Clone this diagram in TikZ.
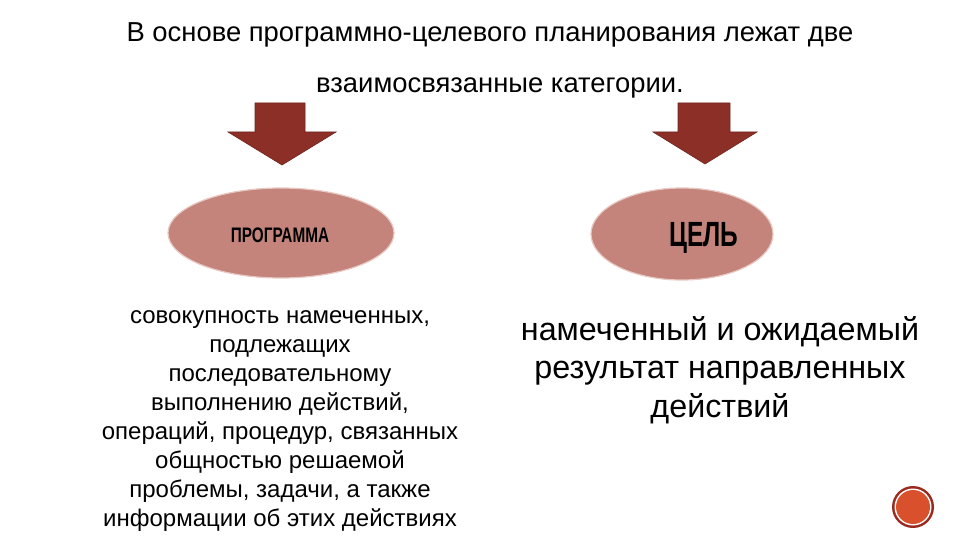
\documentclass[tikz,border=0pt]{standalone}
\usepackage{fontspec}
\setmainfont{Liberation Sans}
\usetikzlibrary{shapes.geometric}
\definecolor{arrowred}{HTML}{8C2F27}
\definecolor{ovalfill}{HTML}{C4847C}
\definecolor{ovalline}{HTML}{E8C8C2}
\definecolor{badge}{HTML}{D9502C}
\definecolor{badgering}{HTML}{9A2A1E}
\tikzset{
  bigarrow/.style={fill=arrowred, draw=arrowred!80!black, line width=0.6pt},
  oval/.style={ellipse, fill=ovalfill, draw=ovalline, line width=1.2pt, inner sep=0pt},
  ovallabel/.style={font=\bfseries, text=black},
  bodytext/.style={align=center, text=black}
}
\begin{document}
\begin{tikzpicture}[x=1pt,y=-1pt]
\useasboundingbox (0,0) rectangle (960,540);
\fill[white] (0,0) rectangle (960,540);
% title
\node[font=\fontsize{27.4}{30}\selectfont] (t1) at (490,35) {В основе программно-целевого планирования лежат две};
\node[font=\fontsize{27.4}{30}\selectfont] (t2) at (500,88) {взаимосвязанные категории.};
% arrows
\draw[bigarrow] (255,103) -- (305,103) -- (305,132) -- (336,132) -- (282,165) -- (228,132) -- (255,132) -- cycle;
\draw[bigarrow] (678,103) -- (730,103) -- (730,132) -- (757,132) -- (705,164) -- (653,132) -- (678,132) -- cycle;
% ovals
\node[oval, minimum width=226, minimum height=90] (prog) at (281,233) {};
\node[ovallabel, font=\bfseries\fontsize{21}{23}\selectfont] (progl) at (280,235) {\scalebox{0.73}[1]{ПРОГРАММА}};
\node[oval, minimum width=182, minimum height=92] (goal) at (682,234) {};
\node[ovallabel, font=\bfseries\fontsize{35}{37}\selectfont] (goall) at (704,238) {\scalebox{0.7}[1]{ЦЕЛЬ}};
% texts
\node[bodytext, font=\fontsize{24}{29}\selectfont] (ltext) at (280,421) {совокупность намеченных,\\подлежащих\\последовательному\\выполнению действий,\\операций, процедур, связанных\\общностью решаемой\\проблемы, задачи, а также\\информации об этих действиях};
\node[bodytext, font=\fontsize{32.3}{38.5}\selectfont] (rtext) at (720,370) {намеченный и ожидаемый\\результат направленных\\действий};
% badge
\fill[badgering] (913,507) circle (21);
\fill[white] (913,507) circle (18.5);
\fill[badge] (913,507) circle (17);
\end{tikzpicture}
\end{document}
